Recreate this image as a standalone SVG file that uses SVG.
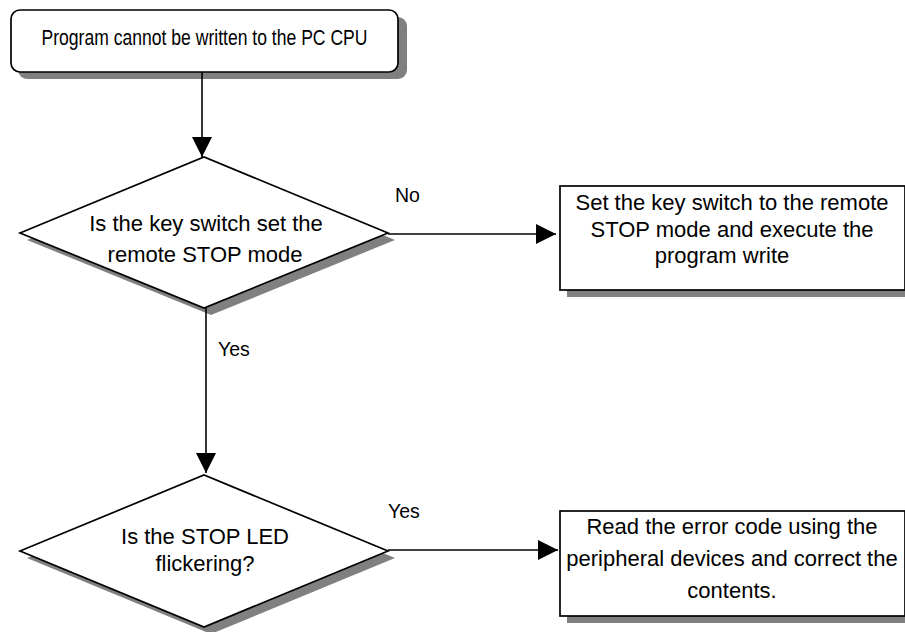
<svg xmlns="http://www.w3.org/2000/svg" width="905" height="632" viewBox="0 0 905 632">
<defs>
<style>
text{font-family:"Liberation Sans",Arial,sans-serif;fill:#000;text-anchor:middle}
.t{font-size:22px}
.lbl{font-size:19.5px;text-anchor:start}
.shape{fill:#fff;stroke:#000;stroke-width:1.7}
.shadow{fill:#808080}
.line{stroke:#000;stroke-width:1.6;fill:none}
</style>
<marker id="arr" viewBox="0 0 10 10" refX="10" refY="5" markerWidth="21" markerHeight="20" markerUnits="userSpaceOnUse" orient="auto"><path d="M0,0 L10,5 L0,10 z" fill="#000"/></marker>
</defs>
<g id="start">
<rect class="shadow" x="18" y="17" width="389" height="62" rx="9"/>
<rect class="shape" x="11" y="10" width="387" height="62" rx="9"/>
<text class="t" x="204.5" y="45" textLength="326" lengthAdjust="spacingAndGlyphs">Program cannot be written to the PC CPU</text>
</g>
<g id="decision1">
<polygon class="shadow" points="27,240 211,164 395,240 211,315"/>
<polygon class="shape" points="20,233 204,157 388,233 204,308"/>
<text class="t" x="206" y="231">Is the key switch set the</text>
<text class="t" x="205" y="262">remote STOP mode</text>
</g>
<g id="action1">
<rect class="shadow" x="567" y="193" width="345" height="104"/>
<rect class="shape" x="560" y="186" width="345" height="104"/>
<text class="t" x="732" y="210">Set the key switch to the remote</text>
<text class="t" x="732" y="237">STOP mode and execute the</text>
<text class="t" x="722" y="263">program write</text>
</g>
<g id="decision2">
<polygon class="shadow" points="27,558 211,482 395,558 211,634"/>
<polygon class="shape" points="20,551 204,475 388,551 204,627"/>
<text class="t" x="205" y="544">Is the STOP LED</text>
<text class="t" x="205" y="571">flickering?</text>
</g>
<g id="action2">
<rect class="shadow" x="567" y="518" width="345" height="105"/>
<rect class="shape" x="560" y="511" width="345" height="105"/>
<text class="t" x="732" y="534">Read the error code using the</text>
<text class="t" x="732" y="566">peripheral devices and correct the</text>
<text class="t" x="732" y="598">contents.</text>
</g>
<g id="connectors">
<line class="line" x1="202" y1="72" x2="202" y2="157" marker-end="url(#arr)"/>
<line class="line" x1="388" y1="234" x2="556" y2="234" marker-end="url(#arr)"/>
<line class="line" x1="206" y1="308" x2="206" y2="473" marker-end="url(#arr)"/>
<line class="line" x1="388" y1="550" x2="558" y2="550" marker-end="url(#arr)"/>
<text class="lbl" x="395" y="202">No</text>
<text class="lbl" x="218" y="356">Yes</text>
<text class="lbl" x="388" y="518">Yes</text>
</g>
</svg>
